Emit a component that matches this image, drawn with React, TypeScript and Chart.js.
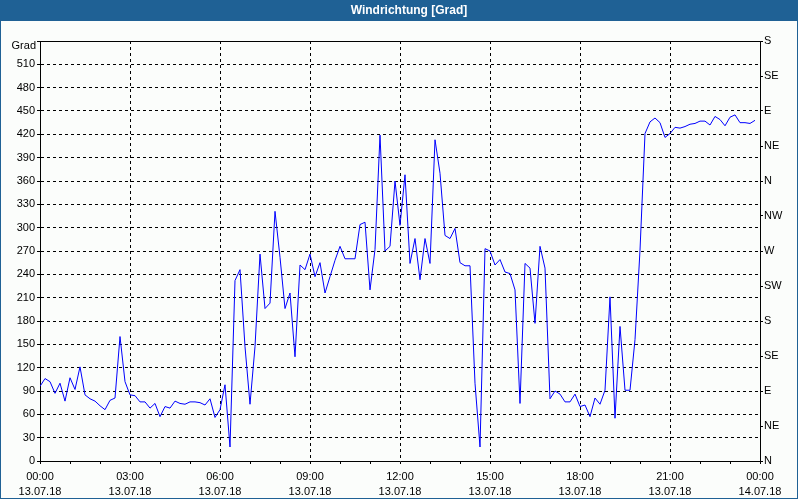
import React, { useEffect, useRef } from 'react';
import { Chart, registerables } from 'chart.js';

Chart.register(...registerables);

// ---- data ----
const chartTitle = 'Windrichtung [Grad]';
const unitLabel = 'Grad';
const intervalMinutes = 10;

// wind direction in degrees, one value every 10 minutes from 13.07.18 00:00
const windDirection = [
  96, 106, 102, 87, 100, 77, 107, 92, 121, 85,
  80, 77, 71, 66, 78, 81, 160, 102, 85, 84,
  76, 76, 68, 74, 57, 70, 68, 77, 74, 73,
  76, 76, 75, 72, 80, 56, 66, 98, 18, 232,
  246, 147, 73, 147, 266, 196, 203, 321, 262, 196,
  216, 134, 252, 246, 266, 237, 255, 216, 237, 258,
  276, 260, 260, 260, 304, 307, 220, 272, 419, 270,
  276, 360, 303, 368, 254, 286, 233, 286, 254, 413,
  370, 290, 286, 299, 255, 251, 251, 100, 18, 273,
  270, 252, 259, 243, 241, 220, 74, 254, 248, 177,
  276, 248, 80, 90, 86, 76, 76, 86, 70, 72,
  57, 81, 73, 91, 211, 55, 173, 91, 91, 156,
  271, 421, 436, 441, 435, 416, 421, 429, 428, 430,
  433, 434, 437, 437, 432, 443, 439, 431, 442, 445,
  435, 435, 434, 438,
];

const xTickTimes = ['00:00', '03:00', '06:00', '09:00', '12:00', '15:00', '18:00', '21:00', '00:00'];
const xTickDates = ['13.07.18', '13.07.18', '13.07.18', '13.07.18', '13.07.18', '13.07.18', '13.07.18', '13.07.18', '14.07.18'];
const leftTicks = [0, 30, 60, 90, 120, 150, 180, 210, 240, 270, 300, 330, 360, 390, 420, 450, 480, 510, 540];
const rightTicks = [0, 45, 90, 135, 180, 225, 270, 315, 360, 405, 450, 495, 540];
const compassLabels = ['N', 'NE', 'E', 'SE', 'S', 'SW', 'W', 'NW', 'N', 'NE', 'E', 'SE', 'S'];
const hourTicks = [0, 1, 2, 3, 4, 5, 6, 7, 8, 9, 10, 11, 12, 13, 14, 15, 16, 17, 18, 19, 20, 21, 22, 23, 24];

// ---- styles ----
const FONT = 'Liberation Sans, Arial, sans-serif';
const BAR = '#1f6195';
const BG = '#fbfdfb';

const framePlugin = {
  id: 'frame',
  beforeDraw(chart: any) {
    const ctx = chart.ctx;
    const w = chart.width;
    const h = chart.height;
    ctx.save();
    ctx.fillStyle = '#ffffff';
    ctx.fillRect(0, 0, w, h);
    ctx.fillStyle = BG;
    ctx.fillRect(0, 0, 798, 499);
    ctx.fillStyle = BAR;
    ctx.fillRect(0, 0, 798, 21);
    ctx.fillRect(0, 0, 1, 499);
    ctx.fillRect(797, 0, 1, 499);
    ctx.fillRect(0, 498, 798, 1);
    ctx.fillStyle = '#ffffff';
    ctx.font = 'bold 12px ' + FONT;
    ctx.textAlign = 'center';
    ctx.textBaseline = 'middle';
    ctx.fillText(chartTitle, 409, 10.5);
    ctx.restore();
  },
  afterDraw(chart: any) {
    const ctx = chart.ctx;
    const a = chart.chartArea;
    ctx.save();
    ctx.strokeStyle = '#000';
    ctx.lineWidth = 1;
    ctx.beginPath();
    ctx.moveTo(Math.round(a.left) + 0.5, Math.round(a.top) + 0.5);
    ctx.lineTo(Math.round(a.right) + 0.5, Math.round(a.top) + 0.5);
    ctx.stroke();
    ctx.fillStyle = '#000';
    ctx.font = '11px ' + FONT;
    ctx.textAlign = 'right';
    ctx.textBaseline = 'middle';
    ctx.fillText(unitLabel, 36, 46);
    ctx.restore();
  },
};

export default function App() {
  const ref = useRef<HTMLCanvasElement>(null);

  useEffect(() => {
    if (!ref.current) return;
    const font = { family: FONT, size: 11 };
    const chart = new Chart(ref.current, {
      type: 'line',
      data: {
        datasets: [
          {
            data: windDirection.map((v, i) => ({ x: i * intervalMinutes, y: v })),
            borderColor: '#0000ff',
            borderWidth: 1,
            pointRadius: 0,
            tension: 0,
            fill: false,
            yAxisID: 'y',
            xAxisID: 'x',
          },
        ],
      },
      options: {
        animation: false,
        responsive: false,
        devicePixelRatio: 1,
        layout: { padding: { top: 41, left: 0, right: 0, bottom: 0 } },
        plugins: {
          legend: { display: false },
          tooltip: { enabled: false },
          title: { display: false },
        },
        scales: {
          x: {
            type: 'linear',
            min: 0,
            max: 1440,
            afterFit: (s: any) => { s.height = 39; },
            afterBuildTicks: (s: any) => { s.ticks = hourTicks.map((h) => ({ value: h * 60 })); },
            ticks: {
              autoSkip: false,
              maxRotation: 0,
              minRotation: 0,
              padding: 5,
              color: '#000',
              font: { ...font, lineHeight: 15 / 11 },
              callback: (v: any) => {
                const n = Number(v);
                if (n % 180 !== 0) return '';
                const k = n / 180;
                return [xTickTimes[k], xTickDates[k]];
              },
            },
            grid: {
              color: (c: any) => (c.tick && c.tick.value % 180 === 0 ? '#000' : 'rgba(0,0,0,0)'),
              tickColor: '#000',
              tickLength: 3,
              lineWidth: 1,
            },
            border: { color: '#000', width: 1, dash: [3, 3] },
          },
          y: {
            position: 'left',
            min: 0,
            max: 540,
            afterFit: (s: any) => { s.width = 40; },
            afterBuildTicks: (s: any) => { s.ticks = leftTicks.map((v) => ({ value: v })); },
            ticks: {
              padding: 2,
              color: '#000',
              font,
              callback: (v: any) => (Number(v) === 540 ? '' : String(v)),
            },
            grid: { color: '#000', tickColor: '#000', tickLength: 3, lineWidth: 1 },
            border: { color: '#000', width: 1, dash: [3, 3] },
          },
          y2: {
            position: 'right',
            min: 0,
            max: 540,
            afterFit: (s: any) => { s.width = 40; },
            afterBuildTicks: (s: any) => { s.ticks = rightTicks.map((v) => ({ value: v })); },
            ticks: {
              padding: 1,
              color: '#000',
              font,
              callback: (v: any) => compassLabels[rightTicks.indexOf(Number(v))],
            },
            grid: { drawOnChartArea: false, tickColor: '#000', tickLength: 3, color: '#000' },
            border: { color: '#000', width: 1 },
          },
        },
      },
      plugins: [framePlugin],
    } as any);
    return () => chart.destroy();
  }, []);

  return (
    <div style={{ position: 'fixed', left: 0, top: 0, width: 800, height: 500 }}>
      <canvas ref={ref} width={800} height={500} style={{ display: 'block', width: 800, height: 500 }} />
    </div>
  );
}
